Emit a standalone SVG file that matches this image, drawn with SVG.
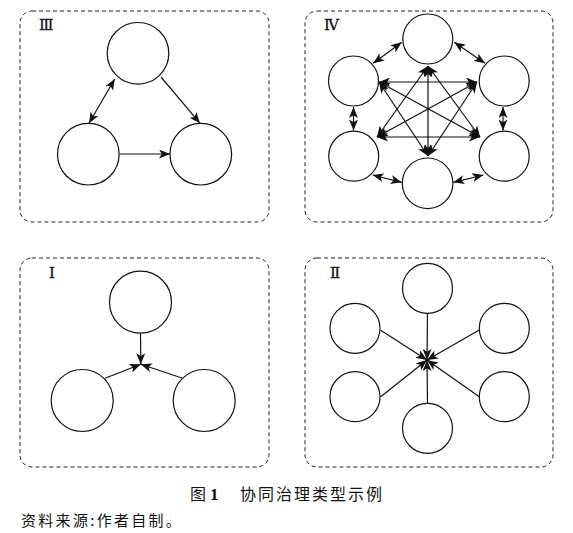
<svg xmlns="http://www.w3.org/2000/svg" width="573" height="533" viewBox="0 0 573 533">
<style>
.box{fill:none;stroke:#222;stroke-width:1;stroke-dasharray:4 3}
.nd{fill:#fff;stroke:#111;stroke-width:1.2}
.ln{fill:none;stroke:#111;stroke-width:1.2}
.one{marker-end:url(#ah)}
.two{marker-start:url(#ah);marker-end:url(#ah)}
.lab{font-family:"DejaVu Serif","Liberation Serif","Noto Sans CJK SC",serif;font-size:15px;fill:#111;stroke:#111;stroke-width:0.3}
.cap{font-family:"Noto Sans CJK SC",sans-serif;font-size:16px;fill:#111}
.src{font-family:"Noto Sans CJK SC",serif;font-size:15px;fill:#111}
</style>
<defs>
<marker id="ah" viewBox="0 0 11 9" markerWidth="11" markerHeight="9" refX="11" refY="4.5" markerUnits="userSpaceOnUse" orient="auto-start-reverse">
<path d="M0,0 L11,4.5 L0,9 L2.8,4.5 z" fill="#111"/>
</marker>
</defs>

<g id="panels">
<rect class="box" x="20" y="11" width="249" height="211" rx="12"/>
<rect class="box" x="305" y="11" width="248" height="211" rx="12"/>
<rect class="box" x="20" y="258" width="249" height="209" rx="12"/>
<rect class="box" x="305" y="258" width="248" height="209" rx="12"/>
</g>

<g id="labels">
<text class="lab" x="39" y="30">Ⅲ</text>
<text class="lab" x="324" y="30">Ⅳ</text>
<text class="lab" x="49" y="278">Ⅰ</text>
<text class="lab" x="330" y="278">Ⅱ</text>
</g>

<g id="connectors">
<!-- III -->
<line class="ln two" x1="114.7" y1="79" x2="89" y2="123.3"/>
<line class="ln one" x1="161" y1="77" x2="200" y2="123.3"/>
<line class="ln one" x1="119.3" y1="154" x2="170" y2="154"/>
<!-- IV adjacent -->
<line class="ln two" x1="401.7" y1="42.3" x2="373.3" y2="63.3"/>
<line class="ln two" x1="454.3" y1="42.3" x2="485" y2="63.3"/>
<line class="ln two" x1="353.5" y1="107" x2="353.5" y2="130.5"/>
<line class="ln two" x1="503" y1="107" x2="503" y2="130.5"/>
<line class="ln two" x1="372.7" y1="175" x2="401.7" y2="182.3"/>
<line class="ln two" x1="453.3" y1="182.3" x2="483.3" y2="175"/>
<!-- IV internal -->
<line class="ln two" x1="379" y1="82" x2="477" y2="82"/>
<line class="ln two" x1="377" y1="137" x2="480" y2="137"/>
<line class="ln two" x1="428" y1="66" x2="428" y2="156"/>
<line class="ln two" x1="379" y1="82" x2="480" y2="137"/>
<line class="ln two" x1="477" y1="82" x2="377" y2="137"/>
<line class="ln two" x1="428" y1="66" x2="377" y2="137"/>
<line class="ln two" x1="428" y1="66" x2="480" y2="137"/>
<line class="ln two" x1="379" y1="82" x2="428" y2="156"/>
<line class="ln two" x1="477" y1="82" x2="428" y2="156"/>
<!-- I -->
<line class="ln one" x1="140.5" y1="333.3" x2="140.8" y2="364.3"/>
<line class="ln one" x1="105" y1="378.3" x2="140.8" y2="364.3"/>
<line class="ln one" x1="182.7" y1="378.3" x2="140.8" y2="364.3"/>
<!-- II -->
<line class="ln one" x1="427.5" y1="313.3" x2="427" y2="360"/>
<line class="ln one" x1="427.5" y1="403.3" x2="427" y2="360"/>
<line class="ln one" x1="380.7" y1="330.3" x2="427" y2="360"/>
<line class="ln one" x1="479.3" y1="330" x2="427" y2="360"/>
<line class="ln one" x1="380.7" y1="396.7" x2="427" y2="360"/>
<line class="ln one" x1="479.3" y1="396.7" x2="427" y2="360"/>
</g>

<g id="n3-top"><circle class="nd" cx="138" cy="53.3" r="30.8"/></g>
<g id="n3-left"><circle class="nd" cx="88.3" cy="154.2" r="30.8"/></g>
<g id="n3-right"><circle class="nd" cx="200.8" cy="154.2" r="30.8"/></g>

<g id="n4-top"><circle class="nd" cx="427.8" cy="39" r="25"/></g>
<g id="n4-ul"><circle class="nd" cx="353.5" cy="81" r="25"/></g>
<g id="n4-ur"><circle class="nd" cx="504.2" cy="81" r="25"/></g>
<g id="n4-ll"><circle class="nd" cx="353.7" cy="156.2" r="25"/></g>
<g id="n4-lr"><circle class="nd" cx="504.2" cy="156.2" r="25"/></g>
<g id="n4-bottom"><circle class="nd" cx="427.6" cy="183.3" r="25.3"/></g>

<g id="n1-top"><circle class="nd" cx="140.5" cy="302.2" r="31"/></g>
<g id="n1-left"><circle class="nd" cx="82.2" cy="400.5" r="31"/></g>
<g id="n1-right"><circle class="nd" cx="204.2" cy="400.5" r="31"/></g>

<g id="n2-top"><circle class="nd" cx="427.5" cy="288.3" r="25"/></g>
<g id="n2-ul"><circle class="nd" cx="355" cy="328.3" r="25"/></g>
<g id="n2-ur"><circle class="nd" cx="504.3" cy="328.3" r="25"/></g>
<g id="n2-ll"><circle class="nd" cx="355" cy="396.7" r="25"/></g>
<g id="n2-lr"><circle class="nd" cx="504.3" cy="396.7" r="25"/></g>
<g id="n2-bottom"><circle class="nd" cx="427.5" cy="428.3" r="25"/></g>

<g id="caption">
<text class="cap" y="500"><tspan x="190">图</tspan><tspan x="210" font-family="Liberation Serif,serif" font-weight="bold" font-size="17">1</tspan><tspan x="240" letter-spacing="2">协同治理类型示例</tspan></text>
<text class="src" x="21" y="526" letter-spacing="2.3">资料来源:作者自制。</text>
</g>
</svg>
